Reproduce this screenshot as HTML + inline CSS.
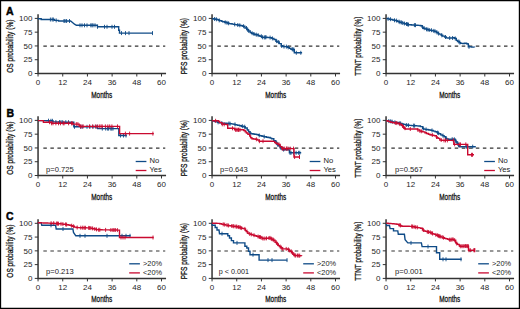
<!DOCTYPE html>
<html><head><meta charset="utf-8"><style>
html,body{margin:0;padding:0;background:#fff;}
svg{display:block;}
.t{font-family:"Liberation Sans",sans-serif;font-size:7.6px;fill:#1a1a1a;}
.tk{font-family:"Liberation Sans",sans-serif;font-size:8px;fill:#262626;}
.lab{font-family:"Liberation Sans",sans-serif;font-size:9.3px;fill:#111;stroke:#111;stroke-width:0.3px;}
.L{font-family:"Liberation Sans",sans-serif;font-size:10.5px;font-weight:bold;fill:#000;stroke:#000;stroke-width:0.45px;}
</style></head><body>
<svg width="520" height="309" viewBox="0 0 520 309">
<path d="M38.05 14.299999999999999V73.5H166.05" fill="none" stroke="#333" stroke-width="1.5"/>
<path d="M34.75 73.50H38.05" stroke="#333" stroke-width="1"/>
<text x="32.449999999999996" y="76.20" class="tk" text-anchor="end">0</text>
<path d="M34.75 59.73H38.05" stroke="#333" stroke-width="1"/>
<text x="32.449999999999996" y="62.43" class="tk" text-anchor="end">25</text>
<path d="M34.75 45.95H38.05" stroke="#333" stroke-width="1"/>
<text x="32.449999999999996" y="48.65" class="tk" text-anchor="end">50</text>
<path d="M34.75 32.17H38.05" stroke="#333" stroke-width="1"/>
<text x="32.449999999999996" y="34.88" class="tk" text-anchor="end">75</text>
<path d="M34.75 18.40H38.05" stroke="#333" stroke-width="1"/>
<text x="32.449999999999996" y="21.10" class="tk" text-anchor="end">100</text>
<path d="M38.05 73.5V76.5" stroke="#333" stroke-width="1"/>
<text x="38.05" y="85.40" class="tk" text-anchor="middle">0</text>
<path d="M62.74 73.5V76.5" stroke="#333" stroke-width="1"/>
<text x="62.74" y="85.40" class="tk" text-anchor="middle">12</text>
<path d="M87.43 73.5V76.5" stroke="#333" stroke-width="1"/>
<text x="87.43" y="85.40" class="tk" text-anchor="middle">24</text>
<path d="M112.12 73.5V76.5" stroke="#333" stroke-width="1"/>
<text x="112.12" y="85.40" class="tk" text-anchor="middle">36</text>
<path d="M136.81 73.5V76.5" stroke="#333" stroke-width="1"/>
<text x="136.81" y="85.40" class="tk" text-anchor="middle">48</text>
<path d="M161.50 73.5V76.5" stroke="#333" stroke-width="1"/>
<text x="161.50" y="85.40" class="tk" text-anchor="middle">60</text>
<path d="M43.349999999999994 46.15H165.25" stroke="#333" stroke-width="1.1" stroke-dasharray="3.5 3.54"/>
<text x="101.75" y="97.50" class="lab" text-anchor="middle" textLength="21" lengthAdjust="spacingAndGlyphs">Months</text>
<text transform="translate(13.05 46.20) rotate(-90)" class="lab" text-anchor="middle" textLength="53.2" lengthAdjust="spacingAndGlyphs">OS probability (%)</text>
<path d="M212.05 14.299999999999999V73.5H340.05" fill="none" stroke="#333" stroke-width="1.5"/>
<path d="M208.75 73.50H212.05" stroke="#333" stroke-width="1"/>
<text x="206.45000000000002" y="76.20" class="tk" text-anchor="end">0</text>
<path d="M208.75 59.73H212.05" stroke="#333" stroke-width="1"/>
<text x="206.45000000000002" y="62.43" class="tk" text-anchor="end">25</text>
<path d="M208.75 45.95H212.05" stroke="#333" stroke-width="1"/>
<text x="206.45000000000002" y="48.65" class="tk" text-anchor="end">50</text>
<path d="M208.75 32.17H212.05" stroke="#333" stroke-width="1"/>
<text x="206.45000000000002" y="34.88" class="tk" text-anchor="end">75</text>
<path d="M208.75 18.40H212.05" stroke="#333" stroke-width="1"/>
<text x="206.45000000000002" y="21.10" class="tk" text-anchor="end">100</text>
<path d="M212.05 73.5V76.5" stroke="#333" stroke-width="1"/>
<text x="212.05" y="85.40" class="tk" text-anchor="middle">0</text>
<path d="M236.74 73.5V76.5" stroke="#333" stroke-width="1"/>
<text x="236.74" y="85.40" class="tk" text-anchor="middle">12</text>
<path d="M261.43 73.5V76.5" stroke="#333" stroke-width="1"/>
<text x="261.43" y="85.40" class="tk" text-anchor="middle">24</text>
<path d="M286.12 73.5V76.5" stroke="#333" stroke-width="1"/>
<text x="286.12" y="85.40" class="tk" text-anchor="middle">36</text>
<path d="M310.81 73.5V76.5" stroke="#333" stroke-width="1"/>
<text x="310.81" y="85.40" class="tk" text-anchor="middle">48</text>
<path d="M335.50 73.5V76.5" stroke="#333" stroke-width="1"/>
<text x="335.50" y="85.40" class="tk" text-anchor="middle">60</text>
<path d="M217.35000000000002 46.15H339.25" stroke="#333" stroke-width="1.1" stroke-dasharray="3.5 3.54"/>
<text x="275.75" y="97.50" class="lab" text-anchor="middle" textLength="21" lengthAdjust="spacingAndGlyphs">Months</text>
<text transform="translate(187.05 46.20) rotate(-90)" class="lab" text-anchor="middle" textLength="56.3" lengthAdjust="spacingAndGlyphs">PFS probability (%)</text>
<path d="M386.05 14.299999999999999V73.5H514.05" fill="none" stroke="#333" stroke-width="1.5"/>
<path d="M382.75 73.50H386.05" stroke="#333" stroke-width="1"/>
<text x="380.45" y="76.20" class="tk" text-anchor="end">0</text>
<path d="M382.75 59.73H386.05" stroke="#333" stroke-width="1"/>
<text x="380.45" y="62.43" class="tk" text-anchor="end">25</text>
<path d="M382.75 45.95H386.05" stroke="#333" stroke-width="1"/>
<text x="380.45" y="48.65" class="tk" text-anchor="end">50</text>
<path d="M382.75 32.17H386.05" stroke="#333" stroke-width="1"/>
<text x="380.45" y="34.88" class="tk" text-anchor="end">75</text>
<path d="M382.75 18.40H386.05" stroke="#333" stroke-width="1"/>
<text x="380.45" y="21.10" class="tk" text-anchor="end">100</text>
<path d="M386.05 73.5V76.5" stroke="#333" stroke-width="1"/>
<text x="386.05" y="85.40" class="tk" text-anchor="middle">0</text>
<path d="M410.74 73.5V76.5" stroke="#333" stroke-width="1"/>
<text x="410.74" y="85.40" class="tk" text-anchor="middle">12</text>
<path d="M435.43 73.5V76.5" stroke="#333" stroke-width="1"/>
<text x="435.43" y="85.40" class="tk" text-anchor="middle">24</text>
<path d="M460.12 73.5V76.5" stroke="#333" stroke-width="1"/>
<text x="460.12" y="85.40" class="tk" text-anchor="middle">36</text>
<path d="M484.81 73.5V76.5" stroke="#333" stroke-width="1"/>
<text x="484.81" y="85.40" class="tk" text-anchor="middle">48</text>
<path d="M509.50 73.5V76.5" stroke="#333" stroke-width="1"/>
<text x="509.50" y="85.40" class="tk" text-anchor="middle">60</text>
<path d="M391.35 46.15H513.25" stroke="#333" stroke-width="1.1" stroke-dasharray="3.5 3.54"/>
<text x="449.75" y="97.50" class="lab" text-anchor="middle" textLength="21" lengthAdjust="spacingAndGlyphs">Months</text>
<text transform="translate(361.05 46.20) rotate(-90)" class="lab" text-anchor="middle" textLength="59.1" lengthAdjust="spacingAndGlyphs">TTNT probability (%)</text>
<path d="M38.05 116.30000000000001V175.5H166.05" fill="none" stroke="#333" stroke-width="1.5"/>
<path d="M34.75 175.50H38.05" stroke="#333" stroke-width="1"/>
<text x="32.449999999999996" y="178.20" class="tk" text-anchor="end">0</text>
<path d="M34.75 161.72H38.05" stroke="#333" stroke-width="1"/>
<text x="32.449999999999996" y="164.42" class="tk" text-anchor="end">25</text>
<path d="M34.75 147.95H38.05" stroke="#333" stroke-width="1"/>
<text x="32.449999999999996" y="150.65" class="tk" text-anchor="end">50</text>
<path d="M34.75 134.18H38.05" stroke="#333" stroke-width="1"/>
<text x="32.449999999999996" y="136.88" class="tk" text-anchor="end">75</text>
<path d="M34.75 120.40H38.05" stroke="#333" stroke-width="1"/>
<text x="32.449999999999996" y="123.10" class="tk" text-anchor="end">100</text>
<path d="M38.05 175.5V178.5" stroke="#333" stroke-width="1"/>
<text x="38.05" y="187.40" class="tk" text-anchor="middle">0</text>
<path d="M62.74 175.5V178.5" stroke="#333" stroke-width="1"/>
<text x="62.74" y="187.40" class="tk" text-anchor="middle">12</text>
<path d="M87.43 175.5V178.5" stroke="#333" stroke-width="1"/>
<text x="87.43" y="187.40" class="tk" text-anchor="middle">24</text>
<path d="M112.12 175.5V178.5" stroke="#333" stroke-width="1"/>
<text x="112.12" y="187.40" class="tk" text-anchor="middle">36</text>
<path d="M136.81 175.5V178.5" stroke="#333" stroke-width="1"/>
<text x="136.81" y="187.40" class="tk" text-anchor="middle">48</text>
<path d="M161.50 175.5V178.5" stroke="#333" stroke-width="1"/>
<text x="161.50" y="187.40" class="tk" text-anchor="middle">60</text>
<path d="M43.349999999999994 148.15H165.25" stroke="#333" stroke-width="1.1" stroke-dasharray="3.5 3.54"/>
<text x="101.75" y="199.50" class="lab" text-anchor="middle" textLength="21" lengthAdjust="spacingAndGlyphs">Months</text>
<text transform="translate(13.05 148.20) rotate(-90)" class="lab" text-anchor="middle" textLength="53.2" lengthAdjust="spacingAndGlyphs">OS probability (%)</text>
<path d="M212.05 116.30000000000001V175.5H340.05" fill="none" stroke="#333" stroke-width="1.5"/>
<path d="M208.75 175.50H212.05" stroke="#333" stroke-width="1"/>
<text x="206.45000000000002" y="178.20" class="tk" text-anchor="end">0</text>
<path d="M208.75 161.72H212.05" stroke="#333" stroke-width="1"/>
<text x="206.45000000000002" y="164.42" class="tk" text-anchor="end">25</text>
<path d="M208.75 147.95H212.05" stroke="#333" stroke-width="1"/>
<text x="206.45000000000002" y="150.65" class="tk" text-anchor="end">50</text>
<path d="M208.75 134.18H212.05" stroke="#333" stroke-width="1"/>
<text x="206.45000000000002" y="136.88" class="tk" text-anchor="end">75</text>
<path d="M208.75 120.40H212.05" stroke="#333" stroke-width="1"/>
<text x="206.45000000000002" y="123.10" class="tk" text-anchor="end">100</text>
<path d="M212.05 175.5V178.5" stroke="#333" stroke-width="1"/>
<text x="212.05" y="187.40" class="tk" text-anchor="middle">0</text>
<path d="M236.74 175.5V178.5" stroke="#333" stroke-width="1"/>
<text x="236.74" y="187.40" class="tk" text-anchor="middle">12</text>
<path d="M261.43 175.5V178.5" stroke="#333" stroke-width="1"/>
<text x="261.43" y="187.40" class="tk" text-anchor="middle">24</text>
<path d="M286.12 175.5V178.5" stroke="#333" stroke-width="1"/>
<text x="286.12" y="187.40" class="tk" text-anchor="middle">36</text>
<path d="M310.81 175.5V178.5" stroke="#333" stroke-width="1"/>
<text x="310.81" y="187.40" class="tk" text-anchor="middle">48</text>
<path d="M335.50 175.5V178.5" stroke="#333" stroke-width="1"/>
<text x="335.50" y="187.40" class="tk" text-anchor="middle">60</text>
<path d="M217.35000000000002 148.15H339.25" stroke="#333" stroke-width="1.1" stroke-dasharray="3.5 3.54"/>
<text x="275.75" y="199.50" class="lab" text-anchor="middle" textLength="21" lengthAdjust="spacingAndGlyphs">Months</text>
<text transform="translate(187.05 148.20) rotate(-90)" class="lab" text-anchor="middle" textLength="56.3" lengthAdjust="spacingAndGlyphs">PFS probability (%)</text>
<path d="M386.05 116.30000000000001V175.5H514.05" fill="none" stroke="#333" stroke-width="1.5"/>
<path d="M382.75 175.50H386.05" stroke="#333" stroke-width="1"/>
<text x="380.45" y="178.20" class="tk" text-anchor="end">0</text>
<path d="M382.75 161.72H386.05" stroke="#333" stroke-width="1"/>
<text x="380.45" y="164.42" class="tk" text-anchor="end">25</text>
<path d="M382.75 147.95H386.05" stroke="#333" stroke-width="1"/>
<text x="380.45" y="150.65" class="tk" text-anchor="end">50</text>
<path d="M382.75 134.18H386.05" stroke="#333" stroke-width="1"/>
<text x="380.45" y="136.88" class="tk" text-anchor="end">75</text>
<path d="M382.75 120.40H386.05" stroke="#333" stroke-width="1"/>
<text x="380.45" y="123.10" class="tk" text-anchor="end">100</text>
<path d="M386.05 175.5V178.5" stroke="#333" stroke-width="1"/>
<text x="386.05" y="187.40" class="tk" text-anchor="middle">0</text>
<path d="M410.74 175.5V178.5" stroke="#333" stroke-width="1"/>
<text x="410.74" y="187.40" class="tk" text-anchor="middle">12</text>
<path d="M435.43 175.5V178.5" stroke="#333" stroke-width="1"/>
<text x="435.43" y="187.40" class="tk" text-anchor="middle">24</text>
<path d="M460.12 175.5V178.5" stroke="#333" stroke-width="1"/>
<text x="460.12" y="187.40" class="tk" text-anchor="middle">36</text>
<path d="M484.81 175.5V178.5" stroke="#333" stroke-width="1"/>
<text x="484.81" y="187.40" class="tk" text-anchor="middle">48</text>
<path d="M509.50 175.5V178.5" stroke="#333" stroke-width="1"/>
<text x="509.50" y="187.40" class="tk" text-anchor="middle">60</text>
<path d="M391.35 148.15H513.25" stroke="#333" stroke-width="1.1" stroke-dasharray="3.5 3.54"/>
<text x="449.75" y="199.50" class="lab" text-anchor="middle" textLength="21" lengthAdjust="spacingAndGlyphs">Months</text>
<text transform="translate(361.05 148.20) rotate(-90)" class="lab" text-anchor="middle" textLength="59.1" lengthAdjust="spacingAndGlyphs">TTNT probability (%)</text>
<path d="M38.05 219.2V278.4H166.05" fill="none" stroke="#333" stroke-width="1.5"/>
<path d="M34.75 278.40H38.05" stroke="#333" stroke-width="1"/>
<text x="32.449999999999996" y="281.10" class="tk" text-anchor="end">0</text>
<path d="M34.75 264.62H38.05" stroke="#333" stroke-width="1"/>
<text x="32.449999999999996" y="267.32" class="tk" text-anchor="end">25</text>
<path d="M34.75 250.85H38.05" stroke="#333" stroke-width="1"/>
<text x="32.449999999999996" y="253.55" class="tk" text-anchor="end">50</text>
<path d="M34.75 237.07H38.05" stroke="#333" stroke-width="1"/>
<text x="32.449999999999996" y="239.77" class="tk" text-anchor="end">75</text>
<path d="M34.75 223.30H38.05" stroke="#333" stroke-width="1"/>
<text x="32.449999999999996" y="226.00" class="tk" text-anchor="end">100</text>
<path d="M38.05 278.4V281.4" stroke="#333" stroke-width="1"/>
<text x="38.05" y="290.30" class="tk" text-anchor="middle">0</text>
<path d="M62.74 278.4V281.4" stroke="#333" stroke-width="1"/>
<text x="62.74" y="290.30" class="tk" text-anchor="middle">12</text>
<path d="M87.43 278.4V281.4" stroke="#333" stroke-width="1"/>
<text x="87.43" y="290.30" class="tk" text-anchor="middle">24</text>
<path d="M112.12 278.4V281.4" stroke="#333" stroke-width="1"/>
<text x="112.12" y="290.30" class="tk" text-anchor="middle">36</text>
<path d="M136.81 278.4V281.4" stroke="#333" stroke-width="1"/>
<text x="136.81" y="290.30" class="tk" text-anchor="middle">48</text>
<path d="M161.50 278.4V281.4" stroke="#333" stroke-width="1"/>
<text x="161.50" y="290.30" class="tk" text-anchor="middle">60</text>
<path d="M43.349999999999994 251.05H165.25" stroke="#333" stroke-width="1.1" stroke-dasharray="3.5 3.54"/>
<text x="101.75" y="302.40" class="lab" text-anchor="middle" textLength="21" lengthAdjust="spacingAndGlyphs">Months</text>
<text transform="translate(13.05 251.10) rotate(-90)" class="lab" text-anchor="middle" textLength="53.2" lengthAdjust="spacingAndGlyphs">OS probability (%)</text>
<path d="M212.05 219.2V278.4H340.05" fill="none" stroke="#333" stroke-width="1.5"/>
<path d="M208.75 278.40H212.05" stroke="#333" stroke-width="1"/>
<text x="206.45000000000002" y="281.10" class="tk" text-anchor="end">0</text>
<path d="M208.75 264.62H212.05" stroke="#333" stroke-width="1"/>
<text x="206.45000000000002" y="267.32" class="tk" text-anchor="end">25</text>
<path d="M208.75 250.85H212.05" stroke="#333" stroke-width="1"/>
<text x="206.45000000000002" y="253.55" class="tk" text-anchor="end">50</text>
<path d="M208.75 237.07H212.05" stroke="#333" stroke-width="1"/>
<text x="206.45000000000002" y="239.77" class="tk" text-anchor="end">75</text>
<path d="M208.75 223.30H212.05" stroke="#333" stroke-width="1"/>
<text x="206.45000000000002" y="226.00" class="tk" text-anchor="end">100</text>
<path d="M212.05 278.4V281.4" stroke="#333" stroke-width="1"/>
<text x="212.05" y="290.30" class="tk" text-anchor="middle">0</text>
<path d="M236.74 278.4V281.4" stroke="#333" stroke-width="1"/>
<text x="236.74" y="290.30" class="tk" text-anchor="middle">12</text>
<path d="M261.43 278.4V281.4" stroke="#333" stroke-width="1"/>
<text x="261.43" y="290.30" class="tk" text-anchor="middle">24</text>
<path d="M286.12 278.4V281.4" stroke="#333" stroke-width="1"/>
<text x="286.12" y="290.30" class="tk" text-anchor="middle">36</text>
<path d="M310.81 278.4V281.4" stroke="#333" stroke-width="1"/>
<text x="310.81" y="290.30" class="tk" text-anchor="middle">48</text>
<path d="M335.50 278.4V281.4" stroke="#333" stroke-width="1"/>
<text x="335.50" y="290.30" class="tk" text-anchor="middle">60</text>
<path d="M217.35000000000002 251.05H339.25" stroke="#333" stroke-width="1.1" stroke-dasharray="3.5 3.54"/>
<text x="275.75" y="302.40" class="lab" text-anchor="middle" textLength="21" lengthAdjust="spacingAndGlyphs">Months</text>
<text transform="translate(187.05 251.10) rotate(-90)" class="lab" text-anchor="middle" textLength="56.3" lengthAdjust="spacingAndGlyphs">PFS probability (%)</text>
<path d="M386.05 219.2V278.4H514.05" fill="none" stroke="#333" stroke-width="1.5"/>
<path d="M382.75 278.40H386.05" stroke="#333" stroke-width="1"/>
<text x="380.45" y="281.10" class="tk" text-anchor="end">0</text>
<path d="M382.75 264.62H386.05" stroke="#333" stroke-width="1"/>
<text x="380.45" y="267.32" class="tk" text-anchor="end">25</text>
<path d="M382.75 250.85H386.05" stroke="#333" stroke-width="1"/>
<text x="380.45" y="253.55" class="tk" text-anchor="end">50</text>
<path d="M382.75 237.07H386.05" stroke="#333" stroke-width="1"/>
<text x="380.45" y="239.77" class="tk" text-anchor="end">75</text>
<path d="M382.75 223.30H386.05" stroke="#333" stroke-width="1"/>
<text x="380.45" y="226.00" class="tk" text-anchor="end">100</text>
<path d="M386.05 278.4V281.4" stroke="#333" stroke-width="1"/>
<text x="386.05" y="290.30" class="tk" text-anchor="middle">0</text>
<path d="M410.74 278.4V281.4" stroke="#333" stroke-width="1"/>
<text x="410.74" y="290.30" class="tk" text-anchor="middle">12</text>
<path d="M435.43 278.4V281.4" stroke="#333" stroke-width="1"/>
<text x="435.43" y="290.30" class="tk" text-anchor="middle">24</text>
<path d="M460.12 278.4V281.4" stroke="#333" stroke-width="1"/>
<text x="460.12" y="290.30" class="tk" text-anchor="middle">36</text>
<path d="M484.81 278.4V281.4" stroke="#333" stroke-width="1"/>
<text x="484.81" y="290.30" class="tk" text-anchor="middle">48</text>
<path d="M509.50 278.4V281.4" stroke="#333" stroke-width="1"/>
<text x="509.50" y="290.30" class="tk" text-anchor="middle">60</text>
<path d="M391.35 251.05H513.25" stroke="#333" stroke-width="1.1" stroke-dasharray="3.5 3.54"/>
<text x="449.75" y="302.40" class="lab" text-anchor="middle" textLength="21" lengthAdjust="spacingAndGlyphs">Months</text>
<text transform="translate(361.05 251.10) rotate(-90)" class="lab" text-anchor="middle" textLength="59.1" lengthAdjust="spacingAndGlyphs">TTNT probability (%)</text>
<text x="6.0" y="15.0" class="L">A</text>
<text x="6.4" y="116.8" class="L">B</text>
<text x="6.0" y="219.9" class="L">C</text>
<path d="M37.7 18.8 L41.2 18.8 L41.2 19.5 L54.5 19.5 L54.5 20.4 L58.5 20.4 L58.5 21.0 L70.6 21.0 L72.5 22.5 L74.5 24.2 L76.4 25.3 L97.4 25.3 L97.4 26.8 L118.7 26.8 L118.7 30.3 L119.5 30.3 L119.5 33.1 L152.8 33.1" fill="none" stroke="#0f4b87" stroke-width="1.4" stroke-linejoin="miter"/>
<path d="M50.4 17.5V21.5M52.2 17.5V21.5M53.3 17.5V21.5M56.2 18.4V22.4M64.0 19.0V23.0M65.0 19.0V23.0M66.6 19.0V23.0M69.5 19.0V23.0M80.0 23.3V27.3M82.0 23.3V27.3M84.5 23.3V27.3M87.0 23.3V27.3M90.8 23.3V27.3M92.0 23.3V27.3M93.0 23.3V27.3M95.0 23.3V27.3M97.5 24.8V28.8M104.5 24.8V28.8M107.0 24.8V28.8M112.0 24.8V28.8M114.5 24.8V28.8M121.5 31.1V35.1M125.5 31.1V35.1M129.0 31.1V35.1M152.5 31.1V35.1" stroke="#0f4b87" stroke-width="0.9"/>
<path d="M212.1 18.8 L213.5 18.8 L213.5 19.0 L215.6 19.0 L215.6 19.3 L217.2 19.3 L217.2 19.8 L218.9 19.8 L218.9 20.4 L219.9 20.4 L219.9 20.8 L221.8 20.8 L221.8 21.4 L222.7 21.4 L222.7 21.7 L224.8 21.7 L224.8 22.3 L226.5 22.3 L226.5 22.8 L228.0 22.8 L228.0 23.3 L229.1 23.3 L229.1 23.6 L230.6 23.6 L230.6 23.8 L232.1 23.8 L232.1 24.1 L233.6 24.1 L233.6 24.4 L235.0 24.4 L235.0 24.6 L237.2 24.6 L237.2 25.0 L239.0 25.0 L239.0 25.3 L240.2 25.3 L240.2 25.5 L241.6 25.5 L241.6 25.8 L242.9 25.8 L242.9 26.2 L244.9 26.2 L244.9 28.0 L247.0 28.0 L247.0 29.8 L248.3 29.8 L248.3 31.0 L250.2 31.0 L250.2 32.6 L251.5 32.6 L251.5 33.2 L253.4 33.2 L253.4 34.0 L254.3 34.0 L254.3 34.3 L255.3 34.3 L255.3 34.7 L256.8 34.7 L256.8 34.7 L257.8 34.7 L257.8 35.1 L258.7 35.1 L258.7 35.6 L259.9 35.6 L259.9 36.2 L261.8 36.2 L261.8 37.3 L262.9 37.3 L262.9 37.4 L264.6 37.4 L264.6 37.3 L265.7 37.3 L265.7 37.2 L267.0 37.2 L267.0 37.4 L267.9 37.4 L267.9 37.5 L269.0 37.5 L269.0 37.6 L270.4 37.6 L270.4 37.8 L271.8 37.8 L271.8 38.4 L273.9 38.4 L273.9 39.5 L275.9 39.5 L275.9 41.2 L277.1 41.2 L277.1 42.0 L279.2 42.0 L279.2 43.6 L281.2 43.6 L281.2 45.8 L282.6 45.8 L282.6 46.6 L284.8 46.6 L284.8 46.6 L285.9 46.6 L285.9 46.6 L287.6 46.6 L287.6 47.4 L289.4 47.4 L289.4 48.4 L290.9 48.4 L290.9 49.2 L292.6 49.2 L292.6 49.5 L293.7 49.5 L293.7 49.6 L294.3 49.6 L294.3 52.8 L295.6 52.8 L295.6 52.8 L296.6 52.8 L296.6 52.8 L298.8 52.8 L298.8 52.8 L300.5 52.8 L300.5 52.8 L301.5 52.8 L301.5 52.8 L302.1 52.8 L302.1 52.8" fill="none" stroke="#0f4b87" stroke-width="1.4" stroke-linejoin="miter"/>
<path d="M214.6 17.0V21.0M216.4 17.3V21.3M219.2 18.4V22.4M225.2 20.3V24.3M227.0 20.8V24.8M228.6 21.3V25.3M234.7 22.4V26.4M237.8 23.0V27.0M239.8 23.3V27.3M243.6 24.2V28.2M246.5 26.0V30.0M247.8 27.8V31.8M248.8 29.0V33.0M252.1 31.2V35.2M254.0 32.0V36.0M256.3 32.7V36.7M258.1 33.1V37.1M261.3 34.2V38.2M262.6 35.3V39.3M264.3 35.4V39.4M265.3 35.3V39.3M266.0 35.2V39.2M270.1 35.6V39.6M272.4 36.4V40.4M276.7 39.2V43.2M278.7 40.0V44.0M281.5 43.8V47.8M284.0 44.6V48.6M286.4 44.6V48.6M288.2 45.4V49.4M292.2 47.2V51.2M293.0 47.5V51.5M293.9 47.6V51.6M296.3 50.8V54.8M300.8 50.8V54.8" stroke="#0f4b87" stroke-width="0.9"/>
<path d="M386.3 18.6 L387.8 18.6 L387.8 18.9 L389.5 18.9 L389.5 19.2 L390.8 19.2 L390.8 19.5 L392.6 19.5 L392.6 20.0 L394.2 20.0 L394.2 20.3 L395.2 20.3 L395.2 20.6 L397.2 20.6 L397.2 21.2 L398.1 21.2 L398.1 21.6 L399.4 21.6 L399.4 22.2 L400.2 22.2 L400.2 22.4 L401.8 22.4 L401.8 22.9 L403.9 22.9 L403.9 23.5 L404.9 23.5 L404.9 23.7 L405.9 23.7 L405.9 24.0 L406.8 24.0 L406.8 24.3 L408.1 24.3 L408.1 24.6 L409.6 24.6 L409.6 24.8 L411.4 24.8 L411.4 25.0 L413.6 25.0 L413.6 25.1 L414.9 25.1 L414.9 25.2 L416.6 25.2 L416.6 25.3 L417.9 25.3 L417.9 25.4 L419.9 25.4 L419.9 25.5 L420.7 25.5 L420.7 25.7 L422.1 25.7 L422.1 27.1 L423.2 27.1 L423.2 28.2 L425.1 28.2 L425.1 28.9 L426.2 28.9 L426.2 29.3 L427.0 29.3 L427.0 29.5 L428.7 29.5 L428.7 30.0 L429.8 30.0 L429.8 30.2 L431.9 30.2 L431.9 30.7 L433.0 30.7 L433.0 30.9 L434.3 30.9 L434.3 31.3 L436.4 31.3 L436.4 32.5 L438.2 32.5 L438.2 33.6 L439.0 33.6 L439.0 34.1 L441.2 34.1 L441.2 35.3 L442.7 35.3 L442.7 36.1 L444.6 36.1 L444.6 37.0 L446.3 37.0 L446.3 37.9 L447.8 37.9 L447.8 38.0 L449.0 38.0 L449.0 38.0 L451.0 38.0 L451.0 38.0 L453.0 38.0 L453.0 37.6 L454.6 37.6 L454.6 38.4 L456.3 38.4 L456.3 40.4 L457.5 40.4 L457.5 41.5 L459.3 41.5 L459.3 42.6 L460.7 42.6 L460.7 43.4 L462.8 43.4 L462.8 43.5 L464.5 43.5 L464.5 43.3 L466.6 43.3 L466.6 43.7 L468.0 43.7 L468.0 44.1 L468.3 44.1 L468.3 46.8 L469.9 46.8 L469.9 46.9 L471.7 46.9 L471.7 47.1 L472.6 47.1 L472.6 47.1 L474.5 47.1 L474.5 47.3" fill="none" stroke="#0f4b87" stroke-width="1.4" stroke-linejoin="miter"/>
<path d="M388.1 16.9V20.9M390.4 17.2V21.2M394.5 18.3V22.3M396.6 18.6V22.6M399.0 19.6V23.6M400.0 20.2V24.2M401.4 20.4V24.4M402.7 20.9V24.9M404.4 21.5V25.5M406.5 22.0V26.0M407.5 22.3V26.3M408.5 22.6V26.6M414.4 23.1V27.1M415.5 23.2V27.2M422.6 25.1V29.1M424.2 26.2V30.2M426.5 27.3V31.3M427.8 27.5V31.5M429.2 28.0V32.0M431.4 28.2V32.2M433.8 28.9V32.9M435.0 29.3V33.3M437.0 30.5V34.5M438.7 31.6V35.6M441.8 33.3V37.3M445.5 35.0V39.0M449.7 36.0V40.0M452.6 36.0V40.0M455.2 36.4V40.4M458.8 39.5V43.5M459.9 40.6V44.6M469.0 44.8V48.8" stroke="#0f4b87" stroke-width="0.9"/>
<path d="M38.0 120.6 L39.5 120.6 L39.5 120.6 L40.5 120.6 L40.5 120.6 L42.8 120.6 L42.8 120.6 L44.2 120.6 L44.2 120.6 L45.3 120.6 L45.3 120.6 L46.3 120.6 L46.3 120.7 L47.8 120.7 L47.8 120.7 L50.0 120.7 L50.0 120.8 L51.5 120.8 L51.5 120.8 L52.8 120.8 L52.8 120.9 L53.0 120.9 L53.0 121.9 L55.5 121.9 L55.5 122.0 L56.8 122.0 L56.8 122.0 L58.9 122.0 L58.9 122.1 L60.4 122.1 L60.4 122.1 L62.0 122.1 L62.0 122.2 L63.4 122.2 L63.4 122.2 L65.3 122.2 L65.3 122.2 L66.7 122.2 L66.7 122.2 L68.0 122.2 L68.0 122.2 L69.8 122.2 L69.8 122.2 L71.9 122.2 L71.9 122.2 L73.8 122.2 L73.8 126.8 L76.1 126.8 L76.1 126.8 L77.8 126.8 L77.8 126.8 L79.5 126.8 L79.5 126.8 L81.0 126.8 L81.0 126.8 L83.5 126.8 L83.5 126.8 L84.7 126.8 L84.7 126.8 L86.0 126.8 L86.0 126.8 L87.4 126.8 L87.4 126.8 L88.9 126.8 L88.9 126.8 L90.4 126.8 L90.4 126.8 L92.1 126.8 L92.1 126.8 L93.7 126.8 L93.7 126.8 L95.5 126.8 L95.5 126.8 L96.9 126.8 L96.9 126.8 L97.7 126.8 L97.7 128.6 L99.7 128.6 L99.7 128.6 L101.8 128.6 L101.8 128.6 L103.3 128.6 L103.3 128.6 L104.4 128.6 L104.4 128.6 L106.4 128.6 L106.4 128.6 L108.2 128.6 L108.2 128.6 L109.2 128.6 L109.2 128.6 L111.2 128.6 L111.2 128.6 L112.4 128.6 L112.4 128.6 L114.5 128.6 L114.5 128.6 L116.6 128.6 L116.6 128.6 L118.5 128.6 L118.5 128.6 L118.8 128.6 L118.8 135.5 L120.5 135.5 L120.5 135.5 L122.8 135.5 L122.8 135.5 L123.9 135.5 L123.9 135.5 L125.6 135.5 L125.6 135.5 L126.8 135.5 L126.8 135.5" fill="none" stroke="#0f4b87" stroke-width="1.4" stroke-linejoin="miter"/>
<path d="M48.5 118.7V122.7M50.9 118.8V122.8M52.4 118.8V122.8M55.9 120.0V124.0M59.5 120.1V124.1M61.0 120.1V124.1M62.7 120.2V124.2M65.8 120.2V124.2M68.5 120.2V124.2M74.5 124.8V128.8M80.6 124.8V128.8M82.2 124.8V128.8M87.0 124.8V128.8M89.9 124.8V128.8M93.0 124.8V128.8M96.1 124.8V128.8M97.3 124.8V128.8M102.3 126.6V130.6M105.7 126.6V130.6M107.6 126.6V130.6M108.6 126.6V130.6M110.8 126.6V130.6M111.8 126.6V130.6M113.0 126.6V130.6M120.5 133.5V137.5M123.5 133.5V137.5M126.0 133.5V137.5" stroke="#0f4b87" stroke-width="0.9"/>
<path d="M38.0 120.6 L39.0 120.6 L39.0 120.6 L41.2 120.6 L41.2 120.6 L42.8 120.6 L42.8 120.6 L43.4 120.6 L43.4 122.2 L45.1 122.2 L45.1 122.2 L46.9 122.2 L46.9 122.2 L48.3 122.2 L48.3 122.2 L50.1 122.2 L50.1 122.2 L51.4 122.2 L51.4 123.3 L52.4 123.3 L52.4 123.3 L53.9 123.3 L53.9 123.3 L55.0 123.3 L55.0 123.3 L56.8 123.3 L56.8 123.3 L57.9 123.3 L57.9 123.3 L60.0 123.3 L60.0 123.3 L62.1 123.3 L62.1 123.3 L63.6 123.3 L63.6 123.3 L64.7 123.3 L64.7 123.3 L65.6 123.3 L65.6 123.3 L67.2 123.3 L67.2 123.3 L69.3 123.3 L69.3 123.3 L70.8 123.3 L70.8 123.3 L71.8 123.3 L71.8 123.3 L72.8 123.3 L72.8 123.3 L73.0 123.3 L73.0 124.1 L74.1 124.1 L74.1 124.1 L75.4 124.1 L75.4 124.1 L76.5 124.1 L76.5 124.1 L77.4 124.1 L77.4 124.1 L78.6 124.1 L78.6 124.1 L79.2 124.1 L79.2 126.4 L81.1 126.4 L81.1 126.4 L82.3 126.4 L82.3 126.4 L84.2 126.4 L84.2 126.4 L85.3 126.4 L85.3 126.4 L87.0 126.4 L87.0 126.4 L89.1 126.4 L89.1 126.4 L90.4 126.4 L90.4 126.4 L91.7 126.4 L91.7 126.4 L93.4 126.4 L93.4 126.4 L94.9 126.4 L94.9 126.4 L96.9 126.4 L96.9 126.4 L98.0 126.4 L98.0 126.4 L98.9 126.4 L98.9 126.4 L100.6 126.4 L100.6 126.4 L102.0 126.4 L102.0 126.4 L103.0 126.4 L103.0 126.4 L104.7 126.4 L104.7 126.4 L106.5 126.4 L106.5 126.4 L107.4 126.4 L107.4 126.4 L109.0 126.4 L109.0 126.4 L110.2 126.4 L110.2 126.4 L111.2 126.4 L111.2 126.4 L112.4 126.4 L112.4 126.4 L113.5 126.4 L113.5 126.4 L115.3 126.4 L115.3 126.4 L116.9 126.4 L116.9 126.4 L118.9 126.4 L118.9 126.4 L119.6 126.4 L119.6 133.6 L120.8 133.6 L120.8 133.6 L121.9 133.6 L121.9 133.6 L123.5 133.6 L123.5 133.6 L125.1 133.6 L125.1 133.6 L126.9 133.6 L126.9 133.6 L128.2 133.6 L128.2 133.6 L129.2 133.6 L129.2 133.6 L130.7 133.6 L130.7 133.6 L131.9 133.6 L131.9 133.6 L133.0 133.6 L133.0 133.6 L135.2 133.6 L135.2 133.6 L136.8 133.6 L136.8 133.6 L138.3 133.6 L138.3 133.6 L140.1 133.6 L140.1 133.6 L142.0 133.6 L142.0 133.6 L143.0 133.6 L143.0 133.6 L144.4 133.6 L144.4 133.6 L146.2 133.6 L146.2 133.6 L148.0 133.6 L148.0 133.6 L150.1 133.6 L150.1 133.6 L151.4 133.6 L151.4 133.6 L152.7 133.6 L152.7 133.6 L153.8 133.6 L153.8 133.6" fill="none" stroke="#c90a30" stroke-width="1.4" stroke-linejoin="miter"/>
<path d="M49.5 120.2V124.2M51.6 121.3V125.3M53.0 121.3V125.3M55.9 121.3V125.3M58.5 121.3V125.3M60.5 121.3V125.3M63.2 121.3V125.3M64.1 121.3V125.3M68.6 121.3V125.3M71.6 121.3V125.3M72.2 121.3V125.3M76.3 122.1V126.1M77.9 122.1V126.1M80.5 124.4V128.4M81.9 124.4V128.4M83.2 124.4V128.4M89.5 124.4V128.4M92.6 124.4V128.4M95.4 124.4V128.4M97.3 124.4V128.4M99.3 124.4V128.4M101.0 124.4V128.4M102.2 124.4V128.4M105.4 124.4V128.4M107.8 124.4V128.4M109.7 124.4V128.4M111.9 124.4V128.4M117.5 124.4V128.4M125.4 131.6V135.6M129.6 131.6V135.6M152.9 131.6V135.6" stroke="#c90a30" stroke-width="0.9"/>
<path d="M212.1 120.8 L213.1 120.8 L213.1 121.1 L214.8 121.1 L214.8 121.6 L215.9 121.6 L215.9 121.9 L217.8 121.9 L217.8 122.3 L219.3 122.3 L219.3 122.7 L220.6 122.7 L220.6 122.9 L221.5 122.9 L221.5 123.1 L222.7 123.1 L222.7 123.3 L224.8 123.3 L224.8 123.3 L226.9 123.3 L226.9 123.5 L227.7 123.5 L227.7 123.5 L229.2 123.5 L229.2 123.7 L230.5 123.7 L230.5 123.8 L231.5 123.8 L231.5 123.9 L232.9 123.9 L232.9 124.1 L234.2 124.1 L234.2 124.4 L235.3 124.4 L235.3 124.7 L236.4 124.7 L236.4 124.9 L237.5 124.9 L237.5 125.2 L239.6 125.2 L239.6 125.7 L241.4 125.7 L241.4 126.2 L243.2 126.2 L243.2 126.7 L245.2 126.7 L245.2 128.0 L247.2 128.0 L247.2 130.0 L248.6 130.0 L248.6 131.7 L249.9 131.7 L249.9 133.2 L251.2 133.2 L251.2 133.8 L253.0 133.8 L253.0 134.0 L254.5 134.0 L254.5 134.2 L256.1 134.2 L256.1 134.4 L257.2 134.4 L257.2 134.8 L258.8 134.8 L258.8 135.4 L259.9 135.4 L259.9 135.8 L262.0 135.8 L262.0 136.3 L263.6 136.3 L263.6 136.6 L264.5 136.6 L264.5 136.8 L266.4 136.8 L266.4 137.2 L268.2 137.2 L268.2 137.5 L270.2 137.5 L270.2 138.1 L271.6 138.1 L271.6 138.7 L273.8 138.7 L273.8 140.6 L275.8 140.6 L275.8 142.9 L277.1 142.9 L277.1 144.5 L278.1 144.5 L278.1 145.8 L280.0 145.8 L280.0 147.7 L282.0 147.7 L282.0 149.5 L283.2 149.5 L283.2 149.6 L284.2 149.6 L284.2 149.7 L286.3 149.7 L286.3 149.8 L288.1 149.8 L288.1 149.9 L289.3 149.9 L289.3 149.9 L289.4 149.9 L289.4 152.8 L290.2 152.8 L290.2 152.8 L292.2 152.8 L292.2 152.8 L293.8 152.8 L293.8 152.8 L295.4 152.8 L295.4 152.8 L296.6 152.8 L296.6 152.8 L297.8 152.8 L297.8 152.8 L298.6 152.8 L298.6 152.8 L300.8 152.8 L300.8 152.8 L301.2 152.8 L301.2 152.8" fill="none" stroke="#0f4b87" stroke-width="1.4" stroke-linejoin="miter"/>
<path d="M218.1 120.3V124.3M221.8 121.1V125.1M228.9 121.5V125.5M230.1 121.7V125.7M235.0 122.4V126.4M242.3 124.2V128.2M244.7 124.7V128.7M250.2 131.2V135.2M259.2 133.4V137.4M264.2 134.6V138.6M276.7 140.9V144.9M277.8 142.5V146.5M280.7 145.7V149.7M283.6 147.6V151.6M290.0 150.8V154.8M299.8 150.8V154.8M291.0 150.8V154.8M293.6 150.8V154.8M296.1 150.8V154.8M298.6 150.8V154.8" stroke="#0f4b87" stroke-width="0.9"/>
<path d="M212.1 120.8 L214.2 120.8 L214.2 120.8 L215.0 120.8 L215.0 120.8 L216.1 120.8 L216.1 120.8 L217.4 120.8 L217.4 120.8 L218.5 120.8 L218.5 121.5 L219.7 121.5 L219.7 122.6 L221.8 122.6 L221.8 124.1 L223.9 124.1 L223.9 124.3 L224.8 124.3 L224.8 124.4 L226.4 124.4 L226.4 124.5 L227.5 124.5 L227.5 124.5 L227.7 124.5 L227.7 128.3 L229.6 128.3 L229.6 128.3 L231.2 128.3 L231.2 128.3 L232.8 128.3 L232.8 128.3 L234.1 128.3 L234.1 128.3 L234.6 128.3 L234.6 129.8 L235.6 129.8 L235.6 129.8 L237.3 129.8 L237.3 129.8 L238.9 129.8 L238.9 129.8 L240.4 129.8 L240.4 129.8 L241.8 129.8 L241.8 129.8 L243.8 129.8 L243.8 130.5 L245.2 130.5 L245.2 131.9 L246.4 131.9 L246.4 133.0 L247.9 133.0 L247.9 134.2 L249.7 134.2 L249.7 136.0 L250.6 136.0 L250.6 137.7 L251.9 137.7 L251.9 138.8 L253.3 138.8 L253.3 139.0 L255.4 139.0 L255.4 139.3 L256.8 139.3 L256.8 139.4 L257.8 139.4 L257.8 140.1 L259.1 140.1 L259.1 141.2 L260.4 141.2 L260.4 141.2 L261.9 141.2 L261.9 141.2 L263.6 141.2 L263.6 141.2 L264.5 141.2 L264.5 141.2 L266.5 141.2 L266.5 141.2 L267.9 141.2 L267.9 141.2 L269.4 141.2 L269.4 141.2 L271.0 141.2 L271.0 141.2 L272.9 141.2 L272.9 141.4 L274.7 141.4 L274.7 142.5 L276.0 142.5 L276.0 143.5 L277.9 143.5 L277.9 144.4 L280.1 144.4 L280.1 146.6 L281.8 146.6 L281.8 148.6 L282.8 148.6 L282.8 148.6 L284.2 148.6 L284.2 148.6 L286.4 148.6 L286.4 148.6 L287.3 148.6 L287.3 148.6 L289.3 148.6 L289.3 148.6 L290.3 148.6 L290.3 148.6 L291.4 148.6 L291.4 148.6 L293.2 148.6 L293.2 148.6 L294.0 148.6 L294.0 157.0 L296.0 157.0 L296.0 157.0 L297.5 157.0 L297.5 157.0 L299.3 157.0 L299.3 157.0 L299.9 157.0 L299.9 157.0" fill="none" stroke="#c90a30" stroke-width="1.4" stroke-linejoin="miter"/>
<path d="M215.6 118.8V122.8M232.5 126.3V130.3M236.0 127.8V131.8M238.5 127.8V131.8M256.4 137.3V141.3M259.4 139.2V143.2M263.0 139.2V143.2M279.0 142.4V146.4M283.1 146.6V150.6M286.7 146.6V150.6M288.1 146.6V150.6M293.5 146.6V150.6M294.6 155.0V159.0M299.5 155.0V159.0M282.6 146.6V150.6M284.7 146.6V150.6M286.8 146.6V150.6M290.2 146.6V150.6M235.8 127.8V131.8M237.3 127.8V131.8M238.8 127.8V131.8M240.0 127.8V131.8M222.3 122.3V126.3M224.2 122.4V126.4M299.5 155.0V159.0" stroke="#c90a30" stroke-width="0.9"/>
<path d="M386.3 120.7 L387.1 120.7 L387.1 120.9 L388.5 120.9 L388.5 121.1 L389.5 121.1 L389.5 121.3 L391.3 121.3 L391.3 121.7 L393.0 121.7 L393.0 122.1 L394.5 122.1 L394.5 122.3 L396.7 122.3 L396.7 122.8 L398.8 122.8 L398.8 123.2 L399.9 123.2 L399.9 123.4 L402.0 123.4 L402.0 124.0 L403.6 124.0 L403.6 124.4 L405.8 124.4 L405.8 125.0 L407.1 125.0 L407.1 125.3 L409.2 125.3 L409.2 125.4 L411.3 125.4 L411.3 125.6 L412.4 125.6 L412.4 125.6 L414.2 125.6 L414.2 125.7 L415.3 125.7 L415.3 125.8 L416.6 125.8 L416.6 125.9 L418.3 125.9 L418.3 126.0 L420.4 126.0 L420.4 126.6 L422.6 126.6 L422.6 128.5 L423.8 128.5 L423.8 129.1 L425.4 129.1 L425.4 129.4 L426.3 129.4 L426.3 129.5 L428.0 129.5 L428.0 129.8 L428.9 129.8 L428.9 130.0 L431.0 130.0 L431.0 130.4 L433.2 130.4 L433.2 131.1 L435.1 131.1 L435.1 131.7 L437.0 131.7 L437.0 132.6 L438.0 132.6 L438.0 133.2 L438.9 133.2 L438.9 133.8 L440.7 133.8 L440.7 134.9 L442.2 134.9 L442.2 135.6 L444.1 135.6 L444.1 136.8 L445.7 136.8 L445.7 138.2 L446.6 138.2 L446.6 138.9 L448.4 138.9 L448.4 139.2 L450.6 139.2 L450.6 139.2 L451.7 139.2 L451.7 139.2 L453.9 139.2 L453.9 139.3 L455.2 139.3 L455.2 140.9 L456.1 140.9 L456.1 142.0 L457.0 142.0 L457.0 143.2 L458.1 143.2 L458.1 145.1 L459.3 145.1 L459.3 146.7 L461.0 146.7 L461.0 146.7 L463.1 146.7 L463.1 146.7 L464.6 146.7 L464.6 146.7 L466.0 146.7 L466.0 146.7 L467.5 146.7 L467.5 146.7 L469.4 146.7 L469.4 146.7 L471.5 146.7 L471.5 146.7 L473.1 146.7 L473.1 146.7 L474.1 146.7 L474.1 146.7 L475.1 146.7 L475.1 146.7 L475.8 146.7 L475.8 146.7" fill="none" stroke="#0f4b87" stroke-width="1.4" stroke-linejoin="miter"/>
<path d="M388.8 119.1V123.1M390.7 119.3V123.3M392.2 119.7V123.7M394.9 120.3V124.3M399.2 121.2V125.2M400.6 121.4V125.4M406.7 123.0V127.0M408.5 123.3V127.3M413.4 123.6V127.6M414.6 123.7V127.7M423.3 126.5V130.5M426.1 127.4V131.4M432.0 128.4V132.4M437.7 130.6V134.6M438.3 131.2V135.2M443.0 133.6V137.6M446.0 136.2V140.2M452.2 137.2V141.2M454.3 137.3V141.3M455.9 138.9V142.9M457.7 141.2V145.2M458.6 143.1V147.1M466.4 144.7V148.7M472.7 144.7V148.7" stroke="#0f4b87" stroke-width="0.9"/>
<path d="M386.3 120.7 L387.2 120.7 L387.2 121.0 L388.4 121.0 L388.4 121.4 L389.9 121.4 L389.9 122.0 L390.9 122.0 L390.9 122.3 L392.8 122.3 L392.8 122.8 L395.0 122.8 L395.0 123.0 L396.3 123.0 L396.3 123.1 L397.3 123.1 L397.3 123.2 L399.2 123.2 L399.2 124.1 L401.4 124.1 L401.4 125.4 L402.4 125.4 L402.4 126.0 L403.3 126.0 L403.3 127.1 L404.2 127.1 L404.2 128.2 L405.2 128.2 L405.2 129.0 L406.2 129.0 L406.2 129.0 L408.1 129.0 L408.1 129.0 L409.7 129.0 L409.7 129.0 L411.3 129.0 L411.3 129.0 L412.4 129.0 L412.4 129.0 L414.6 129.0 L414.6 129.0 L415.5 129.0 L415.5 129.0 L417.5 129.0 L417.5 129.9 L419.2 129.9 L419.2 130.9 L421.0 130.9 L421.0 131.3 L422.3 131.3 L422.3 131.7 L423.1 131.7 L423.1 131.9 L424.9 131.9 L424.9 132.7 L426.4 132.7 L426.4 133.5 L428.4 133.5 L428.4 134.3 L429.9 134.3 L429.9 134.7 L431.0 134.7 L431.0 135.0 L432.8 135.0 L432.8 135.4 L434.4 135.4 L434.4 135.8 L436.3 135.8 L436.3 137.0 L437.3 137.0 L437.3 137.8 L438.1 137.8 L438.1 138.4 L439.8 138.4 L439.8 140.0 L441.7 140.0 L441.7 140.4 L443.8 140.4 L443.8 140.4 L444.7 140.4 L444.7 140.4 L446.0 140.4 L446.0 140.4 L448.2 140.4 L448.2 140.4 L449.8 140.4 L449.8 140.4 L451.8 140.4 L451.8 140.4 L453.8 140.4 L453.8 144.3 L454.8 144.3 L454.8 144.4 L456.7 144.4 L456.7 144.4 L458.5 144.4 L458.5 144.4 L459.5 144.4 L459.5 144.4 L461.7 144.4 L461.7 144.4 L463.1 144.4 L463.1 144.4 L463.9 144.4 L463.9 144.4 L465.1 144.4 L465.1 144.4 L466.0 144.4 L466.0 144.4 L467.5 144.4 L467.5 144.4 L467.7 144.4 L467.7 154.8 L468.6 154.8 L468.6 154.8 L470.8 154.8 L470.8 154.8 L471.7 154.8 L471.7 154.8 L473.9 154.8 L473.9 154.8 L474.0 154.8 L474.0 154.8" fill="none" stroke="#c90a30" stroke-width="1.4" stroke-linejoin="miter"/>
<path d="M395.8 121.0V125.0M396.9 121.1V125.1M399.8 122.1V126.1M402.6 124.0V128.0M403.7 125.1V129.1M405.0 126.2V130.2M410.3 127.0V131.0M417.9 127.9V131.9M419.9 128.9V132.9M421.3 129.3V133.3M432.3 133.0V137.0M436.5 135.0V139.0M441.2 138.0V142.0M444.0 138.4V142.4M445.5 138.4V142.4M447.4 138.4V142.4M453.4 138.4V142.4M454.6 142.3V146.3M459.3 142.4V146.4M460.5 142.4V146.4M465.8 142.4V146.4M471.5 152.8V156.8M472.5 152.8V156.8" stroke="#c90a30" stroke-width="0.9"/>
<path d="M37.7 222.8 L41.2 222.8 L41.8 225.3 L55.6 225.3 L56.2 229.0 L72.9 229.0 L73.5 232.4 L75.8 235.8 L130.6 235.8" fill="none" stroke="#0f4b87" stroke-width="1.4" stroke-linejoin="miter"/>
<path d="M51.0 223.3V227.3M63.0 227.0V231.0M80.0 233.8V237.8M85.0 233.8V237.8M107.0 233.8V237.8M122.0 233.8V237.8M126.0 233.8V237.8M130.0 233.8V237.8" stroke="#0f4b87" stroke-width="0.9"/>
<path d="M37.7 222.8 L39.1 222.8 L39.1 222.8 L40.9 222.8 L40.9 222.9 L42.1 222.9 L42.1 222.9 L43.4 222.9 L43.4 223.0 L44.7 223.0 L44.7 223.0 L45.7 223.0 L45.7 223.0 L47.6 223.0 L47.6 223.1 L49.2 223.1 L49.2 223.1 L50.5 223.1 L50.5 223.2 L52.2 223.2 L52.2 223.2 L54.1 223.2 L54.1 223.4 L55.7 223.4 L55.7 223.5 L57.2 223.5 L57.2 223.6 L58.3 223.6 L58.3 223.7 L59.2 223.7 L59.2 223.8 L60.5 223.8 L60.5 223.9 L62.5 223.9 L62.5 224.1 L63.7 224.1 L63.7 224.2 L65.2 224.2 L65.2 224.4 L66.1 224.4 L66.1 224.6 L67.3 224.6 L67.3 224.8 L68.3 224.8 L68.3 225.0 L69.8 225.0 L69.8 225.3 L71.1 225.3 L71.1 225.7 L72.4 225.7 L72.4 226.3 L74.3 226.3 L74.3 227.1 L76.2 227.1 L76.2 227.5 L77.6 227.5 L77.6 227.6 L79.2 227.6 L79.2 227.6 L80.2 227.6 L80.2 227.7 L81.9 227.7 L81.9 227.7 L83.7 227.7 L83.7 227.8 L85.1 227.8 L85.1 227.8 L86.0 227.8 L86.0 227.9 L87.9 227.9 L87.9 227.9 L89.4 227.9 L89.4 228.0 L90.4 228.0 L90.4 228.1 L91.8 228.1 L91.8 228.4 L92.9 228.4 L92.9 228.7 L94.4 228.7 L94.4 229.0 L96.0 229.0 L96.0 229.4 L96.9 229.4 L96.9 229.6 L98.1 229.6 L98.1 229.8 L99.2 229.8 L99.2 229.8 L100.7 229.8 L100.7 229.8 L102.0 229.8 L102.0 229.9 L103.8 229.9 L103.8 229.9 L105.2 229.9 L105.2 229.9 L106.6 229.9 L106.6 229.9 L108.4 229.9 L108.4 229.9 L109.9 229.9 L109.9 230.0 L111.5 230.0 L111.5 230.0 L113.4 230.0 L113.4 230.0 L114.7 230.0 L114.7 230.0 L116.4 230.0 L116.4 230.1 L118.1 230.1 L118.1 230.1 L119.4 230.1 L119.4 230.1 L119.5 230.1 L119.5 237.5 L120.5 237.5 L120.5 237.5 L121.9 237.5 L121.9 237.5 L123.4 237.5 L123.4 237.5 L124.3 237.5 L124.3 237.5 L125.3 237.5 L125.3 237.5 L126.1 237.5 L126.1 237.5 L127.6 237.5 L127.6 237.5 L129.1 237.5 L129.1 237.5 L130.4 237.5 L130.4 237.5 L131.6 237.5 L131.6 237.5 L133.2 237.5 L133.2 237.5 L134.7 237.5 L134.7 237.5 L136.4 237.5 L136.4 237.5 L137.8 237.5 L137.8 237.5 L139.6 237.5 L139.6 237.5 L141.0 237.5 L141.0 237.5 L142.4 237.5 L142.4 237.5 L144.3 237.5 L144.3 237.5 L145.1 237.5 L145.1 237.5 L146.1 237.5 L146.1 237.5 L147.6 237.5 L147.6 237.5 L149.6 237.5 L149.6 237.5 L151.5 237.5 L151.5 237.5 L153.0 237.5 L153.0 237.5 L153.7 237.5 L153.7 237.5" fill="none" stroke="#c90a30" stroke-width="1.4" stroke-linejoin="miter"/>
<path d="M51.1 221.2V225.2M53.7 221.2V225.2M56.6 221.5V225.5M57.5 221.6V225.6M58.5 221.7V225.7M61.0 221.9V225.9M62.9 222.1V226.1M65.6 222.4V226.4M66.6 222.6V226.6M71.7 223.7V227.7M73.6 224.3V228.3M77.2 225.5V229.5M80.8 225.7V229.7M82.7 225.7V229.7M84.2 225.8V229.8M85.4 225.8V229.8M88.7 225.9V229.9M89.7 226.0V230.0M90.9 226.1V230.1M92.6 226.4V230.4M94.8 227.0V231.0M96.5 227.4V231.4M98.7 227.8V231.8M99.8 227.8V231.8M105.6 227.9V231.9M110.9 228.0V232.0M112.9 228.0V232.0M114.0 228.0V232.0M115.3 228.0V232.0M117.4 228.1V232.1M121.0 235.5V239.5M123.0 235.5V239.5M125.0 235.5V239.5M153.0 235.5V239.5" stroke="#c90a30" stroke-width="0.9"/>
<path d="M212.1 223.4 L212.1 225.3 L215.2 225.3 L215.2 227.5 L217.0 227.5 L217.0 230.0 L219.0 230.0 L219.5 233.7 L227.8 233.7 L227.8 235.8 L229.5 235.8 L229.5 238.0 L231.4 238.0 L231.4 240.6 L233.5 240.6 L233.5 242.9 L244.9 242.9 L244.9 246.3 L246.8 246.3 L246.8 248.0 L248.5 248.0 L248.5 251.3 L250.0 251.3 L250.0 254.7 L259.1 254.7 L259.1 260.1 L287.3 260.1" fill="none" stroke="#0f4b87" stroke-width="1.4" stroke-linejoin="miter"/>
<path d="M222.0 231.7V235.7M237.0 240.9V244.9M253.0 252.7V256.7M268.0 258.1V262.1M272.0 258.1V262.1M287.0 258.1V262.1" stroke="#0f4b87" stroke-width="0.9"/>
<path d="M212.1 223.2 L213.2 223.2 L213.2 223.2 L214.1 223.2 L214.1 223.3 L215.4 223.3 L215.4 223.3 L216.7 223.3 L216.7 223.4 L218.3 223.4 L218.3 223.4 L219.8 223.4 L219.8 223.8 L221.4 223.8 L221.4 224.1 L222.3 224.1 L222.3 224.3 L223.8 224.3 L223.8 224.6 L225.2 224.6 L225.2 224.9 L225.9 224.9 L225.9 225.1 L227.5 225.1 L227.5 225.5 L229.0 225.5 L229.0 225.7 L229.9 225.7 L229.9 225.8 L231.3 225.8 L231.3 226.0 L232.1 226.0 L232.1 226.1 L233.5 226.1 L233.5 226.3 L235.1 226.3 L235.1 226.5 L236.5 226.5 L236.5 226.7 L237.8 226.7 L237.8 227.0 L238.6 227.0 L238.6 227.2 L239.8 227.2 L239.8 227.6 L241.5 227.6 L241.5 228.1 L242.3 228.1 L242.3 228.4 L244.0 228.4 L244.0 228.9 L245.5 228.9 L245.5 230.6 L246.3 230.6 L246.3 231.6 L247.8 231.6 L247.8 233.2 L248.9 233.2 L248.9 233.9 L250.7 233.9 L250.7 234.4 L252.2 234.4 L252.2 234.9 L253.4 234.9 L253.4 235.2 L254.4 235.2 L254.4 235.5 L255.4 235.5 L255.4 235.8 L256.4 235.8 L256.4 236.2 L257.6 236.2 L257.6 236.5 L259.1 236.5 L259.1 237.0 L260.0 237.0 L260.0 237.2 L261.4 237.2 L261.4 237.9 L262.7 237.9 L262.7 238.6 L263.7 238.6 L263.7 238.5 L265.5 238.5 L265.5 238.3 L266.8 238.3 L266.8 238.2 L268.5 238.2 L268.5 238.0 L269.2 238.0 L269.2 237.9 L270.6 237.9 L270.6 238.6 L271.5 238.6 L271.5 239.1 L272.3 239.1 L272.3 239.5 L273.4 239.5 L273.4 240.2 L275.1 240.2 L275.1 242.2 L276.7 242.2 L276.7 244.0 L278.3 244.0 L278.3 245.6 L279.4 245.6 L279.4 246.5 L280.8 246.5 L280.8 247.7 L282.2 247.7 L282.2 248.9 L283.4 248.9 L283.4 248.9 L285.2 248.9 L285.2 248.9 L285.9 248.9 L285.9 248.9 L287.4 248.9 L287.4 249.4 L288.9 249.4 L288.9 250.5 L290.0 250.5 L290.0 251.3 L291.6 251.3 L291.6 252.7 L292.9 252.7 L292.9 254.3 L294.2 254.3 L294.2 255.4 L295.2 255.4 L295.2 255.5 L296.7 255.5 L296.7 255.5 L298.0 255.5 L298.0 255.6 L299.2 255.6 L299.2 255.7 L300.1 255.7 L300.1 255.7 L301.6 255.7 L301.6 255.8" fill="none" stroke="#c90a30" stroke-width="1.4" stroke-linejoin="miter"/>
<path d="M223.2 222.3V226.3M224.7 222.6V226.6M227.0 223.1V227.1M228.4 223.5V227.5M231.8 224.0V228.0M233.1 224.1V228.1M233.9 224.3V228.3M236.0 224.5V228.5M236.8 224.7V228.7M238.3 225.0V229.0M239.2 225.2V229.2M240.5 225.6V229.6M241.7 226.1V230.1M244.9 226.9V230.9M247.1 229.6V233.6M249.7 231.9V235.9M251.3 232.4V236.4M254.0 233.2V237.2M258.1 234.5V238.5M259.4 235.0V239.0M260.5 235.2V239.2M261.9 235.9V239.9M263.0 236.6V240.6M264.8 236.5V240.5M266.5 236.3V240.3M269.0 236.0V240.0M270.0 235.9V239.9M271.2 236.6V240.6M271.9 237.1V241.1M273.1 237.5V241.5M273.9 238.2V242.2M276.2 240.2V244.2M277.6 242.0V246.0M280.1 244.5V248.5M281.3 245.7V249.7M282.8 246.9V250.9M286.2 246.9V250.9M288.4 247.4V251.4M289.3 248.5V252.5M291.2 249.3V253.3M292.4 250.7V254.7M293.8 252.3V256.3M294.9 253.4V257.4M295.7 253.5V257.5M297.5 253.5V257.5M298.8 253.6V257.6M299.7 253.7V257.7" stroke="#c90a30" stroke-width="0.9"/>
<path d="M386.3 223.7 L386.7 225.5 L389.5 225.5 L390.1 228.6 L393.5 228.6 L393.5 230.9 L397.8 230.9 L398.3 234.3 L404.4 234.3 L405.1 239.8 L407.8 242.9 L421.4 242.9 L422.1 246.6 L436.5 246.6 L436.5 252.8 L439.7 252.8 L439.7 259.3 L461.7 259.3" fill="none" stroke="#0f4b87" stroke-width="1.4" stroke-linejoin="miter"/>
<path d="M411.0 240.9V244.9M428.0 244.6V248.6M443.0 257.3V261.3M446.0 257.3V261.3M461.0 257.3V261.3" stroke="#0f4b87" stroke-width="0.9"/>
<path d="M386.3 223.2 L387.3 223.2 L387.3 223.3 L388.1 223.3 L388.1 223.4 L389.1 223.4 L389.1 223.5 L390.8 223.5 L390.8 223.6 L392.6 223.6 L392.6 223.8 L393.9 223.8 L393.9 223.9 L395.2 223.9 L395.2 224.0 L397.0 224.0 L397.0 224.4 L398.8 224.4 L398.8 225.1 L399.5 225.1 L399.5 225.4 L401.1 225.4 L401.1 226.0 L402.2 226.0 L402.2 226.2 L404.0 226.2 L404.0 226.2 L404.9 226.2 L404.9 226.3 L406.1 226.3 L406.1 226.3 L407.3 226.3 L407.3 226.3 L409.1 226.3 L409.1 226.4 L410.7 226.4 L410.7 226.4 L412.0 226.4 L412.0 226.6 L413.2 226.6 L413.2 226.8 L414.4 226.8 L414.4 227.0 L415.2 227.0 L415.2 227.2 L416.5 227.2 L416.5 227.4 L417.7 227.4 L417.7 227.6 L419.1 227.6 L419.1 227.9 L420.7 227.9 L420.7 228.2 L422.5 228.2 L422.5 230.0 L423.9 230.0 L423.9 231.0 L425.5 231.0 L425.5 231.4 L427.2 231.4 L427.2 231.8 L427.9 231.8 L427.9 232.0 L429.2 232.0 L429.2 232.4 L430.9 232.4 L430.9 233.0 L432.2 233.0 L432.2 233.6 L433.0 233.6 L433.0 233.9 L434.3 233.9 L434.3 234.4 L435.6 234.4 L435.6 234.9 L436.7 234.9 L436.7 235.3 L438.1 235.3 L438.1 235.9 L438.9 235.9 L438.9 236.2 L439.6 236.2 L439.6 236.5 L441.1 236.5 L441.1 237.1 L442.9 237.1 L442.9 237.7 L444.3 237.7 L444.3 238.2 L445.0 238.2 L445.0 238.4 L446.0 238.4 L446.0 238.8 L447.8 238.8 L447.8 239.4 L448.9 239.4 L448.9 239.7 L450.1 239.7 L450.1 239.8 L451.5 239.8 L451.5 239.5 L452.6 239.5 L452.6 239.3 L454.0 239.3 L454.0 240.3 L455.7 240.3 L455.7 242.7 L456.4 242.7 L456.4 243.5 L457.5 243.5 L457.5 244.4 L459.2 244.4 L459.2 245.8 L459.9 245.8 L459.9 246.3 L460.7 246.3 L460.7 246.2 L462.2 246.2 L462.2 246.2 L463.2 246.2 L463.2 246.1 L464.6 246.1 L464.6 246.0 L465.8 246.0 L465.8 246.1 L466.6 246.1 L466.6 246.1 L468.3 246.1 L468.3 246.3 L468.5 246.3 L468.5 250.2 L469.8 250.2 L469.8 250.2 L471.1 250.2 L471.1 250.2 L472.9 250.2 L472.9 250.2 L474.1 250.2 L474.1 250.2 L474.9 250.2 L474.9 250.2 L475.0 250.2 L475.0 250.2" fill="none" stroke="#c90a30" stroke-width="1.4" stroke-linejoin="miter"/>
<path d="M399.2 223.1V227.1M400.5 223.4V227.4M411.7 224.4V228.4M412.6 224.6V228.6M414.1 224.8V228.8M415.7 225.2V229.2M417.3 225.4V229.4M423.3 228.0V232.0M427.3 229.8V233.8M428.6 230.0V234.0M430.3 230.4V234.4M431.9 231.0V235.0M432.6 231.6V235.6M435.9 232.9V236.9M437.6 233.3V237.3M438.7 233.9V237.9M439.3 234.2V238.2M440.3 234.5V238.5M442.2 235.1V239.1M443.6 235.7V239.7M449.6 237.7V241.7M450.8 237.8V241.8M451.9 237.5V241.5M453.0 237.3V241.3M454.7 238.3V242.3M456.8 241.5V245.5M460.3 244.3V248.3M461.8 244.2V248.2M463.0 244.2V248.2M464.1 244.1V248.1M465.4 244.0V248.0M466.3 244.1V248.1M467.6 244.1V248.1M468.4 244.3V248.3M468.9 248.2V252.2M470.3 248.2V252.2M473.8 248.2V252.2M474.5 248.2V252.2M474.9 248.2V252.2" stroke="#c90a30" stroke-width="0.9"/>
<path d="M135.7 161.5h10.7" stroke="#0f4b87" stroke-width="1.3"/>
<path d="M135.7 170.5h10.7" stroke="#c90a30" stroke-width="1.3"/>
<text x="149.5" y="163.25" class="t">No</text>
<text x="149.5" y="172.25" class="t">Yes</text>
<path d="M129.2 263.8h10.7" stroke="#0f4b87" stroke-width="1.3"/>
<path d="M129.2 272.9h10.7" stroke="#c90a30" stroke-width="1.3"/>
<text x="143.0" y="266.1" class="t" textLength="19.0" lengthAdjust="spacingAndGlyphs">&gt;20%</text>
<text x="143.0" y="275.2" class="t" textLength="19.0" lengthAdjust="spacingAndGlyphs">&lt;20%</text>
<path d="M309.7 161.5h10.7" stroke="#0f4b87" stroke-width="1.3"/>
<path d="M309.7 170.5h10.7" stroke="#c90a30" stroke-width="1.3"/>
<text x="323.5" y="163.25" class="t">No</text>
<text x="323.5" y="172.25" class="t">Yes</text>
<path d="M303.2 263.8h10.7" stroke="#0f4b87" stroke-width="1.3"/>
<path d="M303.2 272.9h10.7" stroke="#c90a30" stroke-width="1.3"/>
<text x="317.0" y="266.1" class="t" textLength="19.0" lengthAdjust="spacingAndGlyphs">&gt;20%</text>
<text x="317.0" y="275.2" class="t" textLength="19.0" lengthAdjust="spacingAndGlyphs">&lt;20%</text>
<path d="M484.2 161.5h10.7" stroke="#0f4b87" stroke-width="1.3"/>
<path d="M484.2 170.5h10.7" stroke="#c90a30" stroke-width="1.3"/>
<text x="498.0" y="163.25" class="t">No</text>
<text x="498.0" y="172.25" class="t">Yes</text>
<path d="M478.2 263.8h10.7" stroke="#0f4b87" stroke-width="1.3"/>
<path d="M478.2 272.9h10.7" stroke="#c90a30" stroke-width="1.3"/>
<text x="492.0" y="266.1" class="t" textLength="19.0" lengthAdjust="spacingAndGlyphs">&gt;20%</text>
<text x="492.0" y="275.2" class="t" textLength="19.0" lengthAdjust="spacingAndGlyphs">&lt;20%</text>
<text x="46.1" y="171.6" class="t">p=0.725</text>
<text x="220.1" y="171.6" class="t">p=0.643</text>
<text x="395.1" y="171.6" class="t">p=0.567</text>
<text x="46.1" y="274.1" class="t">p=0.213</text>
<text x="218.7" y="274.1" class="t" textLength="30.2" lengthAdjust="spacingAndGlyphs">p &lt; 0.001</text>
<text x="395.1" y="274.1" class="t">p=0.001</text>
<path d="M0.55 0V309M0 0.6H520M519.4 0V309M0 308.3H520" stroke="#000" stroke-width="1.2" fill="none"/>
</svg>
</body></html>
